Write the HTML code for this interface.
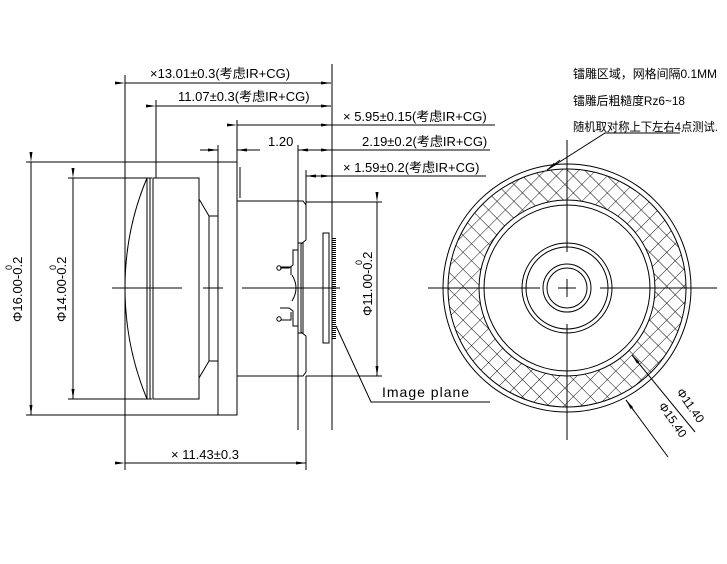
<!DOCTYPE html>
<html><head><meta charset="utf-8"><style>
html,body{margin:0;padding:0;background:#fff}
svg{display:block}
text{font-family:"Liberation Sans","Noto Sans CJK SC",sans-serif;fill:#000}
</style></head><body>
<svg width="727" height="564" viewBox="0 0 727 564" xmlns="http://www.w3.org/2000/svg">
<defs>
<pattern id="h" width="12" height="12" patternUnits="userSpaceOnUse" patternTransform="rotate(45 567 288)">
<path d="M0 0H12M0 0V12" stroke="#000" stroke-width="0.9" fill="none"/>
</pattern>
<marker id="a" markerWidth="10" markerHeight="6" refX="10" refY="3" orient="auto" markerUnits="userSpaceOnUse"><path d="M0 1.5L10 3L0 4.5Z" fill="#000"/></marker>
</defs>
<g stroke="#000" stroke-width="1" fill="none">
<path d="M112 288H182M203 288H223M242 288H340"/>
<path d="M147 178Q125 230 125 288Q125 346 147 399"/>
<path d="M147 178H152M147 399H152M147 178V399M150 178V399"/>
<path d="M153 178H199V399H153Z"/>
<path d="M199 199L209 216V361L199 378M209 216H218M209 361H218"/>
<path d="M218 162H237V415H218Z"/>
<path d="M240 167V198"/>
<path d="M237 201H303L306 205V240L301 244V332L306 336V372L303 376H237"/>
<path d="M298 145V430"/>
<path d="M298 243H303V333H298Z"/>
<path d="M298 250H293V265L289 268H280M298 326H293V311L289 308H280"/>
<circle cx="279" cy="268" r="2.2"/><circle cx="279" cy="319" r="2.2"/>
<path d="M281 320H291V312M281 267H291V275"/>
<path d="M292 275Q300 288 292 301"/>
<path d="M323 233H329V343H323Z"/>
<path d="M332 64V430"/>
<path d="M334 238V340" stroke-dasharray="1 1" stroke-width="4"/>
<path d="M26 162H218M26 415H218M68 178H150M68 399H150"/>
<path d="M31 162V415" marker-start="url(#a)" marker-end="url(#a)"/>
<path d="M73 178V399" marker-start="url(#a)" marker-end="url(#a)"/>
<path d="M306 202H382M306 376H382"/>
<path d="M377 202V376" marker-start="url(#a)" marker-end="url(#a)"/>
<path d="M336 326L371 402H490"/>
<path d="M125 75V470M156 100V178M237 120V162M218 145V162M306 170V205M306 376V470"/>
<path d="M125 83H331" marker-start="url(#a)" marker-end="url(#a)"/>
<path d="M156 106H331" marker-start="url(#a)" marker-end="url(#a)"/>
<path d="M237 125H331" marker-start="url(#a)" marker-end="url(#a)"/>
<path d="M331 125H495"/>
<path d="M200 150H218" marker-end="url(#a)"/>
<path d="M255 150H237" marker-end="url(#a)"/>
<path d="M315 150H298" marker-end="url(#a)"/>
<path d="M315 150H331" marker-end="url(#a)"/>
<path d="M237 150H260M331 150H490"/>
<path d="M318 176H306" marker-end="url(#a)"/>
<path d="M318 176H331" marker-end="url(#a)"/>
<path d="M331 176H486"/>
<path d="M125 463H306" marker-start="url(#a)" marker-end="url(#a)"/>
<path fill="url(#h)" fill-rule="evenodd" stroke="none" d="M448 288a119 119 0 1 0 238 0a119 119 0 1 0 -238 0ZM479 288a88 88 0 1 0 176 0a88 88 0 1 0 -176 0Z"/>
<circle cx="567" cy="288" r="124"/>
<circle cx="567" cy="288" r="119"/>
<circle cx="567" cy="288" r="88"/>
<circle cx="567" cy="288" r="83"/>
<circle cx="567" cy="288" r="45"/>
<circle cx="567" cy="288" r="41"/>
<circle cx="567" cy="288" r="24"/>
<circle cx="567" cy="288" r="20"/>
<path d="M428 288H540M558 288H576M600 288H717M567 140V252M567 279V297M567 324V440"/>
<path d="M680 133H605L547 170" />
<path d="M560 160L547 170" marker-end="url(#a)"/>
<path d="M695 432L632 355"/>
<path d="M640 365L632 355" marker-end="url(#a)"/>
<path d="M668 457L626 400"/>
<path d="M634 411L626 400" marker-end="url(#a)"/>
</g>
<g font-size="13">
<text x="150" y="78">×13.01±0.3(考虑IR+CG)</text>
<text x="178" y="101">11.07±0.3(考虑IR+CG)</text>
<text x="343" y="121">× 5.95±0.15(考虑IR+CG)</text>
<text x="268" y="146">1.20</text>
<text x="362" y="146">2.19±0.2(考虑IR+CG)</text>
<text x="343" y="172">× 1.59±0.2(考虑IR+CG)</text>
<text x="171" y="459">× 11.43±0.3</text>
<text x="382" y="397" font-size="14" letter-spacing="1">Image plane</text>
<text x="573" y="78" font-size="12" textLength="144" lengthAdjust="spacingAndGlyphs">镭雕区域，网格间隔0.1MM</text>
<text x="573" y="105" font-size="12" textLength="112" lengthAdjust="spacingAndGlyphs">镭雕后粗糙度Rz6~18</text>
<text x="573" y="131" font-size="12" textLength="145" lengthAdjust="spacingAndGlyphs">随机取对称上下左右4点测试.</text>
<text transform="translate(22 322) rotate(-90)">Φ16.00-0.2</text>
<text transform="translate(12 270) rotate(-90)" font-size="9">0</text>
<text transform="translate(66 322) rotate(-90)">Φ14.00-0.2</text>
<text transform="translate(56 270) rotate(-90)" font-size="9">0</text>
<text transform="translate(372 316) rotate(-90)">Φ11.00-0.2</text>
<text transform="translate(362 265) rotate(-90)" font-size="9">0</text>
<text transform="translate(676 392) rotate(55)" font-size="12">Φ11.40</text>
<text transform="translate(658 406) rotate(55)" font-size="12">Φ15.40</text>
</g>
</svg>
</body></html>
